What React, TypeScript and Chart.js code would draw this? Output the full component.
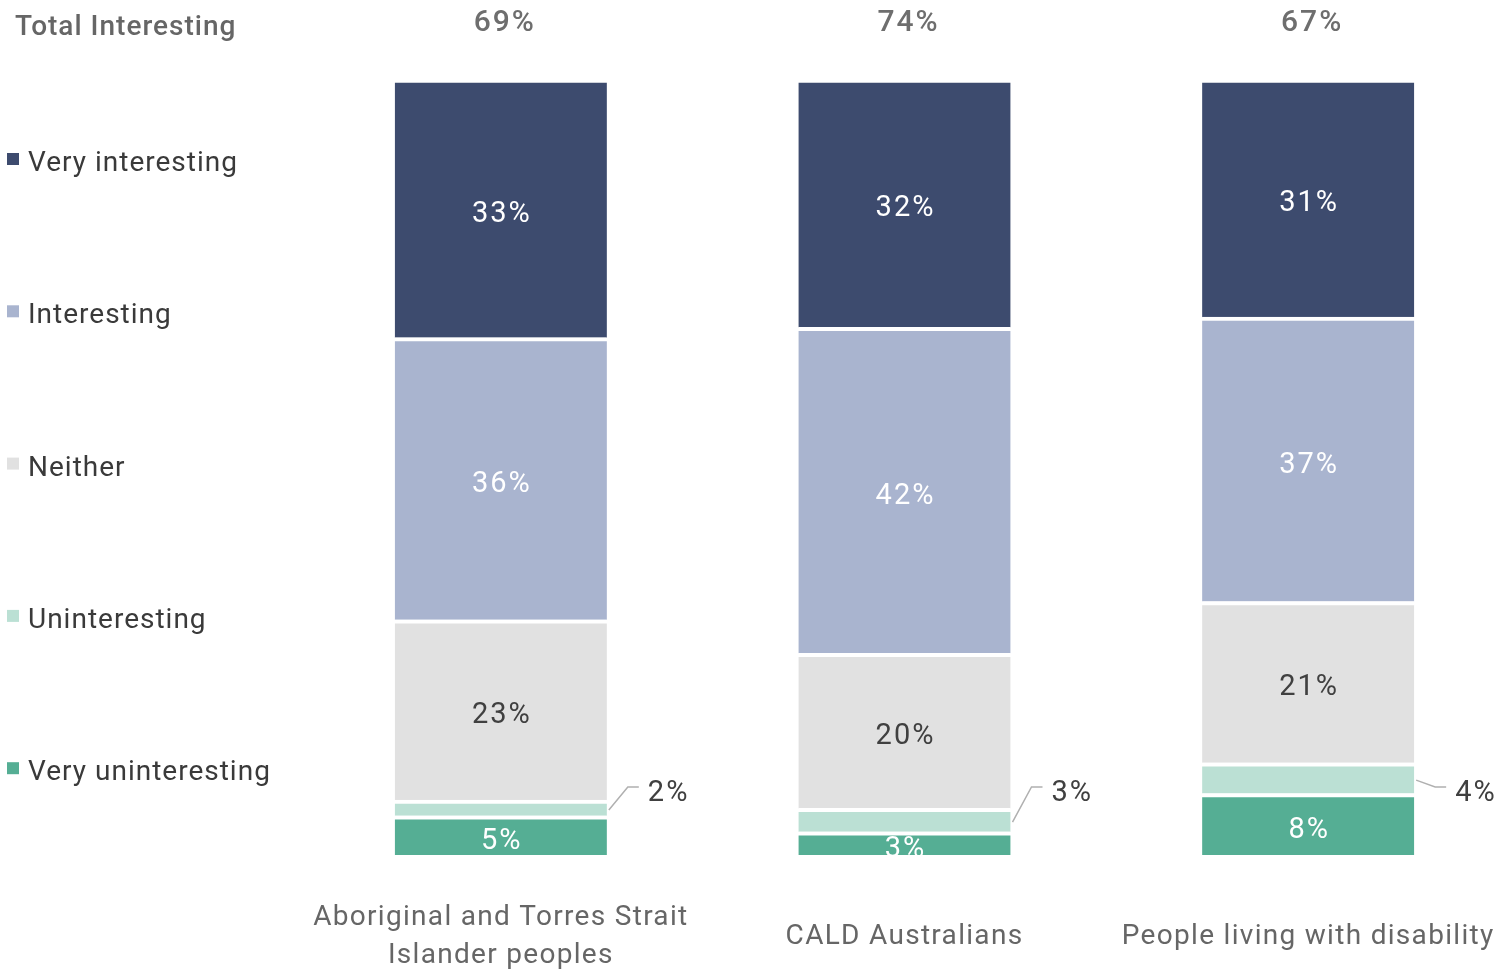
import { useEffect, useRef } from "react";
import { Chart, registerables } from "chart.js";

Chart.register(...registerables);

// ---- data ----
const categories: (string | string[])[] = [
  ["Aboriginal and Torres Strait", "Islander peoples"],
  "CALD Australians",
  "People living with disability",
];
const seriesNames = ["Very uninteresting", "Uninteresting", "Neither", "Interesting", "Very interesting"];
const veryUninteresting = [5, 3, 8];
const uninteresting = [2, 3, 4];
const neither = [23, 20, 21];
const interesting = [36, 42, 37];
const veryInteresting = [33, 32, 31];
const totalInteresting = [69, 74, 67];
const totalTitle = "Total Interesting";

const seriesValues = [veryUninteresting, uninteresting, neither, interesting, veryInteresting];
const seriesColors = ["#55ae94", "#bbe0d4", "#e1e1e1", "#a9b4cf", "#3d4b6e"];
const labelColors = ["#ffffff", "#404040", "#404040", "#ffffff", "#ffffff"];

const FONT = "Roboto, 'Liberation Sans', sans-serif";

const sums = categories.map((_, i) => seriesValues.reduce((s, arr) => s + arr[i], 0));

const overlayPlugin = {
  id: "overlay",
  beforeDraw(chart: any) {
    chart.ctx.letterSpacing = "1.3px";
  },
  afterDatasetsDraw(chart: any) {
    const { ctx, chartArea } = chart;
    ctx.save();
    ctx.textBaseline = "middle";
    // segment labels
    chart.data.datasets.forEach((ds: any, di: number) => {
      const meta = chart.getDatasetMeta(di);
      meta.data.forEach((bar: any, i: number) => {
        const { x, y, base, width } = bar.getProps(["x", "y", "base", "width"], true);
        const text = ds.rawValues[i] + "%";
        ctx.font = `29px ${FONT}`;
        ctx.letterSpacing = "2px";
        if (di === 1) {
          // outside label with leader line
          const right = x + width / 2;
          const mid = (y + base) / 2 + 2;
          const lx = right + 41;
          const ly = chartArea.bottom - 61;
          ctx.strokeStyle = "#b0b0b0";
          ctx.lineWidth = 1.5;
          ctx.beginPath();
          ctx.moveTo(right + 2, mid);
          ctx.lineTo(lx - 20, ly - 7);
          ctx.lineTo(lx - 9, ly - 7);
          ctx.stroke();
          ctx.fillStyle = "#404040";
          ctx.textAlign = "left";
          ctx.fillText(text, lx, ly);
        } else {
          ctx.save();
          ctx.beginPath();
          ctx.rect(chartArea.left, chartArea.top, chartArea.right - chartArea.left, chartArea.bottom - chartArea.top);
          ctx.clip();
          ctx.fillStyle = labelColors[di];
          ctx.textAlign = "center";
          ctx.fillText(text, x + 1, (y + base) / 2 + 6);
          ctx.restore();
        }
      });
    });
    // totals above bars
    const topMeta = chart.getDatasetMeta(chart.data.datasets.length - 1);
    topMeta.data.forEach((bar: any, i: number) => {
      ctx.font = `500 30px ${FONT}`;
      ctx.letterSpacing = "2px";
      ctx.fillStyle = "#6e6e6e";
      ctx.textAlign = "center";
      ctx.fillText(totalInteresting[i] + "%", bar.x + 4, 23);
    });
    // title
    ctx.font = `500 28px ${FONT}`;
    ctx.letterSpacing = "1px";
    ctx.fillStyle = "#666666";
    ctx.textAlign = "left";
    ctx.fillText(totalTitle, 15, 28);
    // legend (top = last dataset)
    const n = chart.data.datasets.length;
    for (let k = 0; k < n; k++) {
      const ds = chart.data.datasets[n - 1 - k];
      const cy = 162 + k * 152.3;
      ctx.fillStyle = ds.backgroundColor;
      ctx.fillRect(7, cy - 9, 12, 12);
      ctx.font = `28px ${FONT}`;
      ctx.letterSpacing = "1px";
      ctx.fillStyle = "#3a3a3a";
      ctx.fillText(ds.label, 28, cy + 2);
    }
    ctx.restore();
  },
};

export default function App() {
  const ref = useRef<HTMLCanvasElement | null>(null);
  useEffect(() => {
    if (!ref.current) return;
    const chart = new Chart(ref.current, {
      type: "bar",
      data: {
        labels: categories as any,
        datasets: seriesNames.map((name, si) => ({
          label: name,
          data: seriesValues[si].map((v, i) => (v / sums[i]) * 100),
          rawValues: seriesValues[si],
          backgroundColor: seriesColors[si],
          borderColor: "#ffffff",
          borderWidth: { top: 4, bottom: 0, left: 0, right: 0 },
          borderSkipped: false,
          barThickness: 212,
        })) as any,
      },
      options: {
        animation: false,
        responsive: true,
        maintainAspectRatio: false,
        layout: { padding: { left: 299, top: 79, right: 0, bottom: 0 } },
        plugins: { legend: { display: false }, tooltip: { enabled: false } },
        scales: {
          x: {
            stacked: true,
            grid: { display: false, drawTicks: false },
            border: { display: false },
            ticks: {
              padding: 63,
              color: "#666666",
              font: { family: FONT, size: 28, lineHeight: 1.35 },
              crossAlign: "center",
              maxRotation: 0,
              autoSkip: false,
            },
            afterFit: (scale: any) => {
              scale.paddingLeft = 0;
              scale.paddingRight = 0;
              scale.height = 115;
            },
          },
          y: { stacked: true, display: false, min: 0, max: 100 },
        },
      },
      plugins: [overlayPlugin],
    });
    return () => chart.destroy();
  }, []);
  return (
    <div style={{ position: "absolute", left: 0, top: 0, width: 1510, height: 970, background: "#fff" }}>
      <canvas ref={ref} />
    </div>
  );
}
